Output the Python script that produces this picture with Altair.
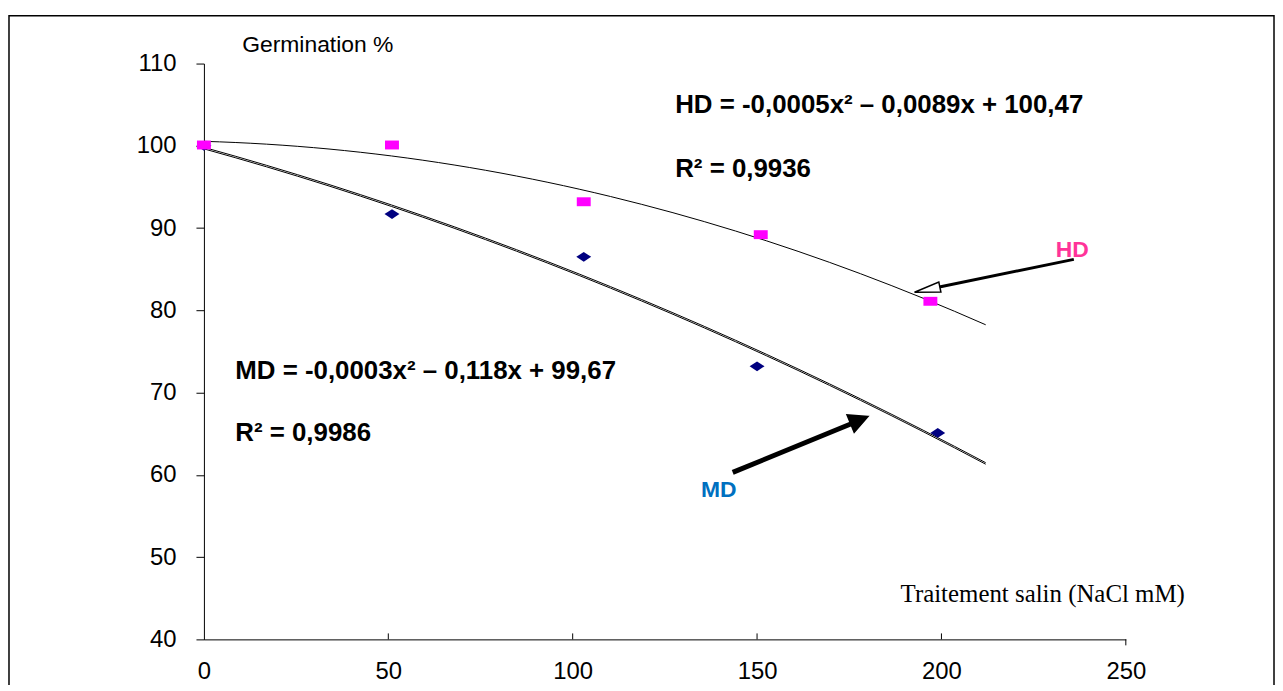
import altair as alt
import pandas as pd

# ---- data ----
hd_x = [0, 51, 103, 151, 197]
hd_y = [100.1, 100.1, 93.2, 89.2, 81.1]
md_x = [0, 51, 103, 150, 199]
md_y = [100.0, 91.7, 86.5, 73.2, 65.1]

x_ticks = [0, 50, 100, 150, 200, 250]
y_ticks = [40, 50, 60, 70, 80, 90, 100, 110]
inner_ticks = [50, 100, 150, 200]
end_tick = [250]

eq_text = ["HD = -0,0005x² – 0,0089x + 100,47", "R² = 0,9936",
           "MD = -0,0003x² – 0,118x + 99,67", "R² = 0,9986"]
eq_x = [127.8, 127.8, 8.5, 8.5]
eq_y = [104.0, 96.2, 71.7, 64.1]

lab_text = ["HD", "MD"]
lab_x = [231.0, 134.8]
lab_y = [86.5, 57.3]
lab_color = ["#FF3399", "#0070C0"]

# arrows: tail -> tip
hd_arrow = dict(x=235.9, y=86.2, x2=196.8, y2=82.6, tx=192.7, ty=82.2)
md_arrow = dict(x=143.4, y=60.3, x2=177.7, y2=66.6, tx=180.1, ty=67.1)

W, H = 927, 579

df_hd = pd.DataFrame({"x": hd_x, "y": hd_y})
df_md = pd.DataFrame({"x": md_x, "y": md_y})

xs = alt.Scale(domain=[0, 250], nice=False, zero=False)
ys = alt.Scale(domain=[40, 110], nice=False, zero=False)

X = alt.X("x:Q", scale=xs,
          axis=alt.Axis(values=x_ticks, ticks=False, grid=False, labelPadding=20,
                        labelFlush=False, labelOverlap=False,
                        labelFont="Liberation Sans", labelFontSize=24, labelColor="black",
                        domainColor="black", domainWidth=1,
                        title="Traitement salin (NaCl mM)", titleFont="Liberation Serif",
                        titleFontSize=25, titleFontWeight="normal", titleAlign="left",
                        titleBaseline="alphabetic", titleX=700, titleY=-38,
                        titleColor="black"))
Y = alt.Y("y:Q", scale=ys,
          axis=alt.Axis(values=y_ticks, tickSize=8, grid=False, labelPadding=20,
                        labelFlush=False, labelOverlap=False,
                        labelFont="Liberation Sans", labelFontSize=24, labelColor="black",
                        domainColor="black", domainWidth=1, tickColor="black", tickWidth=1,
                        title="Germination %", titleAngle=0, titleAlign="left",
                        titleBaseline="alphabetic", titleX=38, titleY=-12,
                        titleFont="Liberation Sans", titleFontSize=23,
                        titleFontWeight="normal", titleColor="black"))

base_hd = alt.Chart(df_hd)
base_md = alt.Chart(df_md)

frame = alt.Chart(pd.DataFrame({"a": [0]})).mark_rect(
    fill="white", fillOpacity=0, stroke="black", strokeWidth=1.5, clip=False
).encode(x=alt.value(-196), x2=alt.value(1076), y=alt.value(-48), y2=alt.value(720))

axes = base_hd.mark_point(opacity=0).encode(x=X, y=Y)

trend_hd = base_hd.transform_regression("x", "y", method="poly", order=2, extent=[0, 212]).mark_line(
    color="black", strokeWidth=1).encode(x="x:Q", y="y:Q")
trend_md = base_md.transform_regression("x", "y", method="poly", order=2, extent=[0, 212]).mark_line(
    color="black", strokeWidth=1).encode(x="x:Q", y="y:Q")
trend_md2 = base_md.transform_regression("x", "y", method="poly", order=2, extent=[0, 212]).mark_line(
    color="black", strokeWidth=1, yOffset=1.5).encode(x="x:Q", y="y:Q")

pts_md = base_md.mark_point(shape="M-1,0L0,-0.65L1,0L0,0.65Z", filled=True, color="#000080",
                            size=225, opacity=1).encode(x="x:Q", y="y:Q")
pts_hd = base_hd.mark_point(shape="M-1,-0.64H1V0.64H-1Z", filled=True, color="#FF00FF",
                            size=196, opacity=1).encode(x="x:Q", y="y:Q")

ticks_in = alt.Chart(pd.DataFrame({"x": inner_ticks})).mark_rule(color="black", strokeWidth=1).encode(
    x="x:Q", y=alt.value(H - 6), y2=alt.value(H))
ticks_end = alt.Chart(pd.DataFrame({"x": end_tick})).mark_rule(color="black", strokeWidth=1).encode(
    x="x:Q", y=alt.value(H), y2=alt.value(H + 6))

eqs = alt.Chart(pd.DataFrame({"t": eq_text, "x": eq_x, "y": eq_y})).mark_text(
    font="Liberation Sans", fontWeight="bold", fontSize=26, align="left",
    baseline="alphabetic", color="black").encode(x="x:Q", y="y:Q", text="t:N")

labs = alt.Chart(pd.DataFrame({"t": lab_text, "x": lab_x, "y": lab_y, "c": lab_color})).mark_text(
    font="Liberation Sans", fontWeight="bold", fontSize=23, align="left",
    baseline="alphabetic").encode(x="x:Q", y="y:Q", text="t:N",
                                  color=alt.Color("c:N", scale=None))

def arrow(a, width, head_path, head_size, angle, fill):
    d = pd.DataFrame([a])
    shaft = alt.Chart(d).mark_rule(color="black", strokeWidth=width, strokeCap="butt").encode(
        x="x:Q", y="y:Q", x2="x2:Q", y2="y2:Q")
    head = alt.Chart(d).mark_point(shape=head_path, size=head_size, angle=angle, filled=True,
                                   fill=fill, stroke="black", strokeWidth=1.5, opacity=1).encode(
        x="tx:Q", y="ty:Q")
    return shaft + head

arr_hd = arrow(hd_arrow, 3, "M0,0L-2,-0.4L-2,0.4Z", 676, 168.35, "white")
arr_md = arrow(md_arrow, 5, "M0,0L-2,-1L-2,1Z", 361, 337.6, "black")

chart = alt.layer(frame, axes, trend_hd, trend_md, trend_md2, pts_md, pts_hd,
                  ticks_in, ticks_end, eqs, labs, arr_hd, arr_md).properties(
    width=W, height=H,
    autosize=alt.AutoSizeParams(type="none"),
    padding={"left": 197, "top": 54, "right": 150, "bottom": 44},
    background="white",
).configure_view(stroke=None)

chart.save("out.html", embed_options={"renderer": "svg", "actions": False})
